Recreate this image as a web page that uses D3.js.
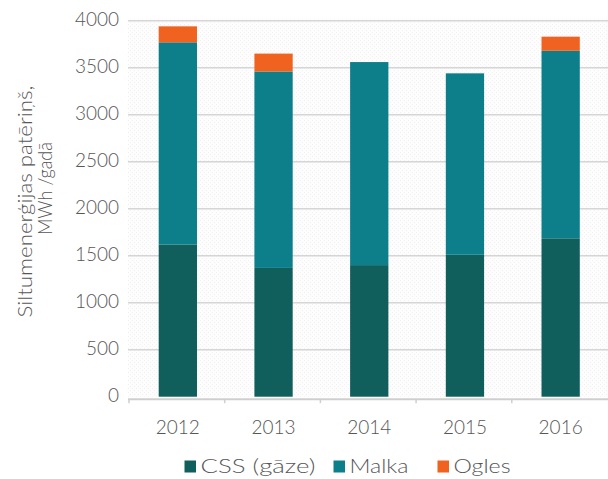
<!DOCTYPE html>
<html>
<head>
<meta charset="utf-8">
<script src="https://cdn.jsdelivr.net/npm/d3@7"></script>
<style>
  html, body { margin: 0; padding: 0; background: #ffffff; }
  svg { display: block; }
  text { font-family: "Lato", "Open Sans", "DejaVu Sans", sans-serif; fill: #565656; }
</style>
</head>
<body>
<svg id="chart" width="608" height="479"></svg>
<script>
// Heat consumption by fuel, MWh per year
const years = ["2012", "2013", "2014", "2015", "2016"];
const seriesNames = ["CSS (gāze)", "Malka", "Ogles"];
const cssGas = [1620, 1370, 1400, 1510, 1685];
const firewood = [2150, 2090, 2160, 1930, 1995];
const coal = [170, 190, 0, 0, 150];
const yTicks = [0, 500, 1000, 1500, 2000, 2500, 3000, 3500, 4000];
const colors = ["#105f5c", "#0d7f8b", "#f0621f"];

const rows = years.map((y, i) => ({
  year: y,
  "CSS (gāze)": cssGas[i],
  "Malka": firewood[i],
  "Ogles": coal[i]
}));

const svg = d3.select("#chart");
const plotLeft = 130, plotRight = 608.5, plotTop = 20.7, plotBottom = 396.7;
const fontSize = 19;

const x = d3.scaleBand().domain(years).range([plotLeft, plotRight])
  .paddingInner(0.6).paddingOuter(0.3);
const y = d3.scaleLinear().domain([0, 4000]).range([plotBottom, plotTop]);

// faint textured plot background
const defs = svg.append("defs");
const pat = defs.append("pattern").attr("id", "tex")
  .attr("width", 4).attr("height", 4).attr("patternUnits", "userSpaceOnUse");
pat.append("rect").attr("width", 4).attr("height", 4).attr("fill", "#fdfdfd");
pat.append("rect").attr("width", 1).attr("height", 1).attr("fill", "#f1f1f1");
pat.append("rect").attr("x", 2).attr("y", 2).attr("width", 1).attr("height", 1).attr("fill", "#f1f1f1");
svg.append("rect").attr("x", plotLeft - 2).attr("y", plotTop - 2)
  .attr("width", plotRight - plotLeft + 2).attr("height", plotBottom - plotTop + 2)
  .attr("fill", "url(#tex)");

// horizontal gridlines
svg.append("g")
  .selectAll("line")
  .data(yTicks.filter(d => d > 0))
  .join("line")
  .attr("x1", plotLeft - 2).attr("x2", 608)
  .attr("y1", d => y(d)).attr("y2", d => y(d))
  .attr("stroke", "#d6d6d6").attr("stroke-width", 1.6);

// y tick labels
svg.append("g")
  .selectAll("text")
  .data(yTicks)
  .join("text")
  .attr("x", 119).attr("y", d => y(d) - 1.5)
  .attr("dy", "0.36em")
  .attr("text-anchor", "end")
  .attr("font-size", fontSize)
  .attr("font-weight", 300)
  .text(d => d);

// stacked bars
const stack = d3.stack().keys(seriesNames)(rows);
svg.append("g")
  .selectAll("g")
  .data(stack)
  .join("g")
  .attr("fill", (d, i) => colors[i])
  .selectAll("rect")
  .data(d => d.filter(s => s[1] - s[0] > 0))
  .join("rect")
  .attr("x", d => x(d.data.year))
  .attr("width", x.bandwidth())
  .attr("y", d => y(d[1]))
  .attr("height", d => y(d[0]) - y(d[1]));

// x axis line with ticks between categories
const axisY = plotBottom + 2.5;
svg.append("line")
  .attr("x1", plotLeft - 2).attr("x2", 608)
  .attr("y1", axisY).attr("y2", axisY)
  .attr("stroke", "#cfcfcf").attr("stroke-width", 2);
const step = x.step();
svg.append("g")
  .selectAll("line")
  .data(d3.range(0, years.length))
  .join("line")
  .attr("x1", d => plotLeft - 1 + d * step).attr("x2", d => plotLeft - 1 + d * step)
  .attr("y1", axisY).attr("y2", axisY + 4)
  .attr("stroke", "#cfcfcf").attr("stroke-width", 1.5);

// x labels
svg.append("g")
  .selectAll("text")
  .data(years)
  .join("text")
  .attr("x", d => x(d) + x.bandwidth() / 2)
  .attr("y", 433.5)
  .attr("text-anchor", "middle")
  .attr("font-size", fontSize)
  .attr("font-weight", 300)
  .text(d => d);

// y axis title (two lines, rotated)
svg.append("text")
  .attr("transform", "translate(32,201.5) rotate(-90)")
  .attr("text-anchor", "middle")
  .attr("font-size", fontSize)
  .attr("font-weight", 300)
  .attr("textLength", 232)
  .attr("lengthAdjust", "spacingAndGlyphs")
  .text("Siltumenerģijas patēriņš,");
svg.append("text")
  .attr("transform", "translate(52,188.5) rotate(-90)")
  .attr("text-anchor", "middle")
  .attr("font-size", fontSize)
  .attr("font-weight", 300)
  .attr("textLength", 93)
  .attr("lengthAdjust", "spacingAndGlyphs")
  .text("MWh /gadā");

// legend
const legendX = [184.5, 333.5, 437.5];
const legendTextLen = [115, 59, 57];
const lg = svg.append("g")
  .selectAll("g")
  .data(seriesNames)
  .join("g")
  .attr("transform", (d, i) => `translate(${legendX[i]},460.5)`);
lg.append("rect").attr("width", 11.5).attr("height", 12)
  .attr("fill", (d, i) => colors[i]);
lg.append("text").attr("x", 16).attr("y", 12.5)
  .attr("font-size", fontSize).attr("font-weight", 300)
  .attr("textLength", (d, i) => legendTextLen[i])
  .attr("lengthAdjust", "spacingAndGlyphs")
  .text(d => d);
</script>
</body>
</html>
